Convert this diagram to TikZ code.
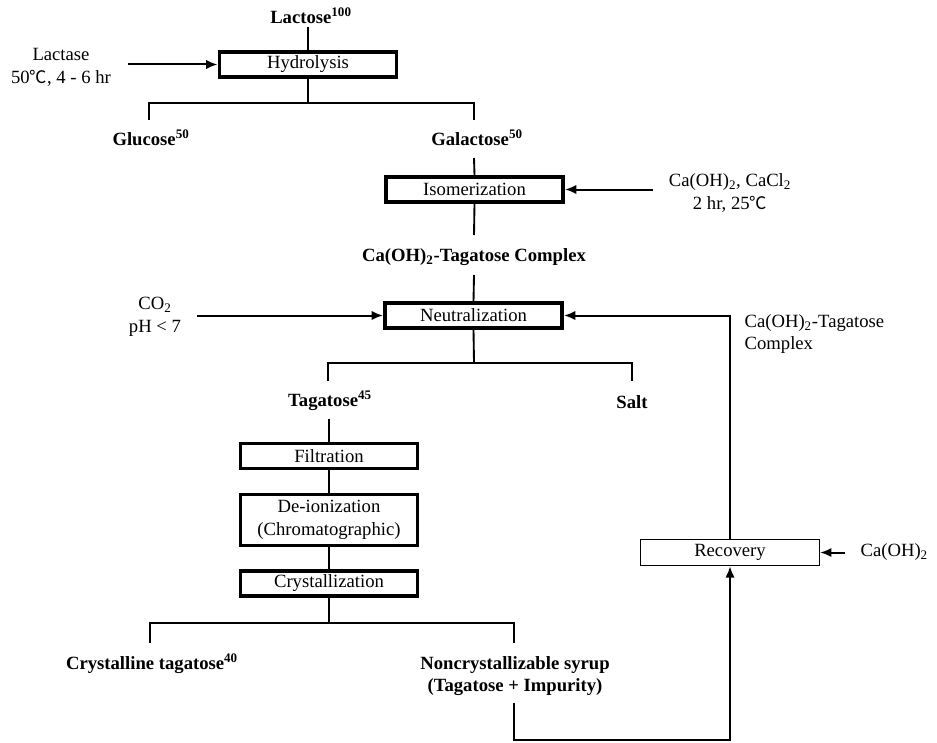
\documentclass[tikz,border=0pt]{standalone}
\usepackage{fontspec}
\setmainfont{Liberation Serif}
\newfontfamily\cjkf{Noto Sans CJK KR}
\usetikzlibrary{arrows.meta}
\newcommand{\degC}{{\cjkf\fontsize{13}{17}\selectfont ℃}}
\begin{document}
\begin{tikzpicture}[x=0.75pt,y=-0.75pt,
  font=\fontsize{14}{17}\selectfont,
  procbox/.style={draw, line width=2.7pt, minimum width=133pt, minimum height=18.5pt, inner sep=0pt},
  procboxm/.style={draw, line width=1.9pt, minimum width=133pt, minimum height=18.5pt, inner sep=0pt},
  recbox/.style={draw, line width=1.2pt, minimum width=134pt, minimum height=19.5pt, inner sep=0pt},
  lbl/.style={font=\bfseries\fontsize{14}{17}\selectfont, inner sep=1pt},
  note/.style={inner sep=1pt, align=center},
  conn/.style={line width=1.4pt},
  arr/.style={line width=1.5pt, -{Latex[length=8.5pt,width=7pt]}}
]
\useasboundingbox (0,0) rectangle (937,742);

% top
\node[lbl] (lactose) at (311,16) {Lactose\textsuperscript{100}};
\coordinate (la1) at (308,27);
\node[procbox] (hyd) at (308,64.5) {Hydrolysis};
\draw[conn] (la1) -- (hyd.north);
\node[note] (lactase) at (61,67.5) {Lactase\\50\degC, 4 - 6 hr};
\coordinate (lacA) at (128,64.5);
\draw[arr] (lacA) -- (hyd.west);

% split 1
\coordinate (s1) at (308,103);
\coordinate (s1l) at (149,103);
\coordinate (s1r) at (474,103);
\coordinate (g1) at (149,120);
\coordinate (ga1) at (474,120);
\draw[conn] (hyd.south) -- (s1);
\draw[conn] (g1) -- (s1l) -- (s1r) -- (ga1);
\node[lbl] (glucose) at (151,138) {Glucose\textsuperscript{50}};
\node[lbl] (galactose) at (477,138) {Galactose\textsuperscript{50}};

% isomerization
\coordinate (ga2) at (474,158);
\node[procbox] (iso) at (474.5,189.5) {Isomerization};
\draw[conn] (ga2) -- (iso.north);
\coordinate (isoA) at (653,189.5);
\draw[arr] (isoA) -- (iso.east);
\node[note] (isoN) at (730,193) {Ca(OH)\textsubscript{2}, CaCl\textsubscript{2}\\2 hr, 25\degC};
\coordinate (c1) at (474,235);
\draw[conn] (iso.south) -- (c1);
\node[lbl] (complex) at (474,257) {Ca(OH)\textsubscript{2}-Tagatose Complex};

% neutralization
\coordinate (c2) at (474,275);
\node[procbox] (neu) at (473.5,315.5) {Neutralization};
\draw[conn] (c2) -- (neu.north);
\node[note] (co2) at (155,317) {CO\textsubscript{2}\\pH < 7};
\coordinate (co2A) at (197,315.5);
\draw[arr] (co2A) -- (neu.west);

% split 2
\coordinate (s2) at (474,363);
\coordinate (s2l) at (328,363);
\coordinate (s2r) at (632,363);
\coordinate (t1) at (328,381);
\coordinate (sa1) at (632,381);
\draw[conn] (neu.south) -- (s2);
\draw[conn] (t1) -- (s2l) -- (s2r) -- (sa1);
\node[lbl] (tag) at (330,401) {Tagatose\textsuperscript{45}};
\node[lbl] (salt) at (632,402) {Salt};

% purification column
\coordinate (t2) at (329,419);
\node[procboxm] (filt) at (329,456) {Filtration};
\node[procboxm, minimum height=38pt, align=center] (deion) at (329,520) {De-ionization\\(Chromatographic)};
\node[procbox] (cryst) at (329,583.5) {Crystallization};
\draw[conn] (t2) -- (filt.north);
\draw[conn] (filt.south) -- (deion.north);
\draw[conn] (deion.south) -- (cryst.north);

% split 3
\coordinate (s3) at (329,623);
\coordinate (s3l) at (150,623);
\coordinate (s3r) at (514,623);
\coordinate (ct1) at (150,643);
\coordinate (nc1) at (514,643);
\draw[conn] (cryst.south) -- (s3);
\draw[conn] (ct1) -- (s3l) -- (s3r) -- (nc1);
\node[lbl] (cryt) at (152,664) {Crystalline tagatose\textsuperscript{40}};
\node[lbl, align=center] (noncr) at (515,676) {Noncrystallizable syrup\\(Tagatose + Impurity)};

% recovery loop
\node[recbox] (rec) at (730,552.5) {Recovery};
\coordinate (nc2) at (514,703);
\coordinate (b1) at (514,740);
\coordinate (b2) at (730,740);
\draw[arr] (nc2) -- (b1) -- (b2) -- (rec.south);
\coordinate (nr) at (730,315.5);
\draw[arr] (rec.north) -- (nr) -- (neu.east);
\node[note, anchor=west, align=left] (cxl) at (743,334) {Ca(OH)\textsubscript{2}-Tagatose\\Complex};
\coordinate (caA) at (845,552.5);
\draw[arr] (caA) -- (rec.east);
\node[note, anchor=west] (caoh) at (859,552) {Ca(OH)\textsubscript{2}};
\end{tikzpicture}
\end{document}
